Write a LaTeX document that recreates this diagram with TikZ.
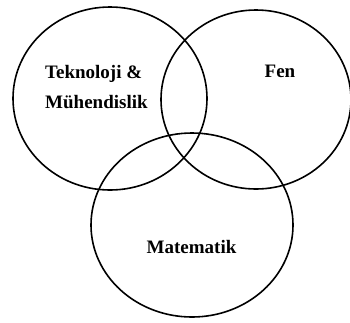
\documentclass[tikz,border=0pt]{standalone}
\usepackage{fontspec}
\setmainfont{Liberation Serif}
\usetikzlibrary{shapes.geometric}
\tikzset{
  setring/.style={
    shape = ellipse,
    draw,
    line width = 1.6pt,
    inner sep = 0pt
  },
  setname/.style={
    inner sep = 0pt,
    font = \fontsize{19}{30}\selectfont\bfseries
  }
}
\begin{document}
\begin{tikzpicture}[x=1pt,y=-1pt]
  \useasboundingbox (0,0) rectangle (350,322);
  \node[setring,minimum width=194pt,minimum height=183pt] (tek) at (110,98.5) {};
  \node[setring,minimum width=190pt,minimum height=179pt] (fen) at (256,99.5) {};
  \node[setring,minimum width=202pt,minimum height=184pt] (mat) at (192,225) {};
  \node[setname,align=left,anchor=west] (tekname) at (45,87) {Teknoloji \&\\Mühendislik};
  \node[setname] (fenname) at (280,71) {Fen};
  \node[setname] (matname) at (191.5,247) {Matematik};
\end{tikzpicture}
\end{document}
